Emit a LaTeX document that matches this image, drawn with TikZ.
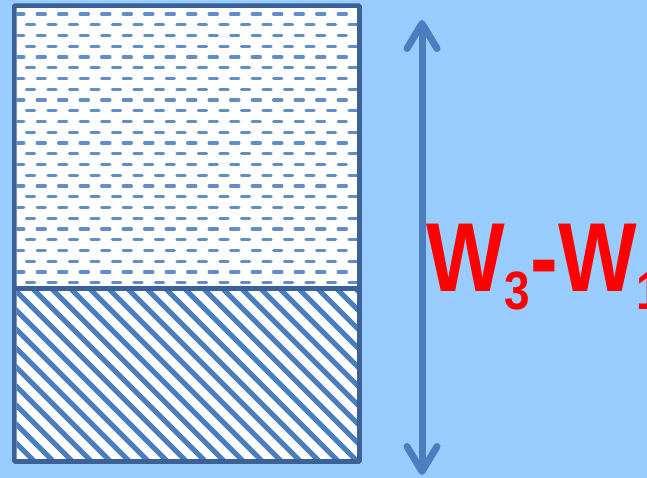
\documentclass[tikz,border=0pt]{standalone}
\usepackage{fontspec}
\newfontfamily\narrowbold[FakeStretch=0.85]{Liberation Sans Bold}
\usetikzlibrary{arrows.meta}
\usepackage{xcolor}
\definecolor{skyback}{HTML}{99CCFF}
\definecolor{framebl}{HTML}{3B6196}
\definecolor{arrowbl}{HTML}{4A7EBE}
\definecolor{dashbl}{HTML}{5F8ECB}
\definecolor{labelred}{HTML}{FF0000}
\newcommand{\wsub}[1]{\raisebox{-18pt}{\fontsize{54}{54}\selectfont #1}}

\begin{document}
\begin{tikzpicture}[x=1pt, y=-1pt,
  frame/.style={draw=framebl, line width=4.6pt, rounded corners=1pt},
  dashrow/.style={draw=dashbl, line width=3.2pt, line cap=round, dash pattern=on 8.3pt off 13.2pt},
  hatch/.style={draw=arrowbl, line width=5pt},
  span/.style={draw=arrowbl, line width=7pt, {Straight Barb[length=25pt, width=30pt, round]}-{Straight Barb[length=25pt, width=30pt, round]}},
  wlabel/.style={text=labelred, inner sep=0pt, font=\narrowbold\fontsize{98}{98}\selectfont}
]
\useasboundingbox (0,0) rectangle (647,478);
\clip (0,0) rectangle (647,478);
\fill[skyback] (0,0) rectangle (647,478);
\fill[white] (14,6) rectangle (359.5,461.5);
% liquid layer: rows of dashes
\begin{scope}
  \clip (16.5,8) rectangle (357,286.5);
  \foreach \k in {0,...,25} {
    \pgfmathsetmacro{\rowy}{14+10.75*\k}
    \pgfmathsetmacro{\rowx}{ifthenelse(mod(\k,2)==0,15.6,26.35)}
    \draw[dashrow] (\rowx,\rowy) -- (370,\rowy);
  }
\end{scope}
% solid layer: diagonal hatching
\begin{scope}
  \clip (16.5,291) rectangle (357,459);
  \foreach \c in {-180,-161,...,360}
    \draw[hatch] (\c,285) -- (\c+185,470);
\end{scope}
% container
\draw[frame] (14.3,5.7) rectangle (359.5,461.5);
\draw[frame, rounded corners=0pt] (14.3,288.7) -- (359.5,288.7);
% height arrow
\coordinate (top) at (422,20);
\coordinate (bottom) at (422,475);
\draw[span] (top) -- (bottom);
\node[wlabel, anchor=base west] (diff) at (426,291.7) {W\wsub{3}-W\wsub{1}};
\end{tikzpicture}
\end{document}
